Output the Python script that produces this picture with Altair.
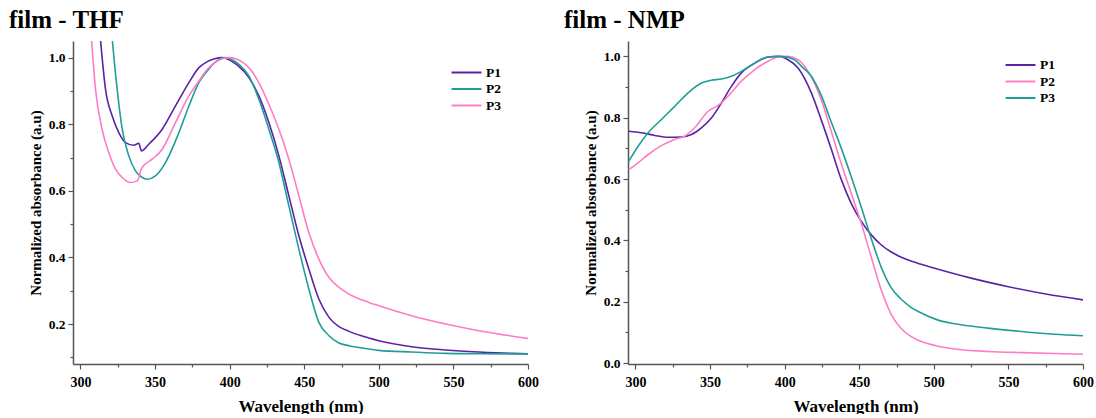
import altair as alt
import pandas as pd

# ---------------- data: film - THF ----------------
thf_p1_wl = [313.4, 316.8, 321.3, 325.7, 330.2, 335.8, 339.1, 340.9, 345.8, 354.8, 363.7, 372.7,
             379.4, 385, 390, 395, 400, 405, 412.9, 419.6, 426.3, 433, 439.7, 446.4, 453.1,
             459.8, 466.6, 473.3, 480, 493.4, 500, 522, 545, 567, 589, 600]
thf_p1_ab = [1.055, 0.905, 0.825, 0.775, 0.745, 0.737, 0.743, 0.72, 0.74, 0.785, 0.855, 0.925,
             0.97, 0.988, 0.997, 1.0, 0.993, 0.978, 0.94, 0.885, 0.805, 0.705, 0.585, 0.465, 0.365,
             0.275, 0.22, 0.192, 0.178, 0.158, 0.15, 0.132, 0.122, 0.116, 0.112, 0.111]

thf_p2_wl = [321.3, 324.6, 328, 332.4, 336.9, 341.4, 344.7, 350.3, 357, 366, 372.7, 379.4, 385,
             390, 397, 403, 407, 412.9, 419.6, 426.3, 433, 439.7, 446.4, 453.1, 459.8, 466.6,
             473.3, 480, 493.4, 500, 522, 545, 567, 600]
thf_p2_ab = [1.055, 0.905, 0.785, 0.705, 0.66, 0.64, 0.635, 0.645, 0.685, 0.775, 0.855, 0.925, 0.96,
             0.985, 1.0, 0.99, 0.977, 0.945, 0.875, 0.785, 0.685, 0.555, 0.425, 0.305, 0.205, 0.165,
             0.143, 0.135, 0.125, 0.121, 0.116, 0.112, 0.111, 0.11]

thf_p3_wl = [307.4, 310.1, 314.5, 319, 323.5, 328, 333.5, 338, 339.5, 340.3, 341.4, 348.1, 354.8,
             363.7, 372.7, 379.4, 385, 390, 395, 400, 405, 409, 412.9, 419.6, 426.3, 433, 439.7,
             446.4, 453.1, 459.8, 466.6, 473.3, 480, 493.4, 500, 522, 545, 567, 600]
thf_p3_ab = [1.055, 0.905, 0.785, 0.715, 0.665, 0.64, 0.625, 0.63, 0.645, 0.66, 0.67, 0.695, 0.725,
             0.805, 0.885, 0.93, 0.965, 0.985, 0.997, 1.0, 0.995, 0.985, 0.97, 0.925, 0.86, 0.785, 0.695,
             0.585, 0.475, 0.395, 0.34, 0.31, 0.29, 0.265, 0.255, 0.225, 0.2, 0.18, 0.157]

# ---------------- data: film - NMP ----------------
nmp_p1_wl = [295.5, 304, 313, 321.9, 330.8, 337.5, 344.2, 350.9, 357.6, 364.3, 371, 380, 388.9,
             395.6, 402.3, 409, 417.9, 424.6, 431.3, 438, 444.7, 451.4, 458.1, 464.8, 471.5,
             478.2, 491.6, 500, 525, 550, 575, 600]
nmp_p1_ab = [0.756, 0.751, 0.742, 0.736, 0.737, 0.745, 0.767, 0.799, 0.848, 0.902, 0.946, 0.978, 0.998,
             1.0, 0.989, 0.962, 0.881, 0.792, 0.697, 0.598, 0.52, 0.462, 0.418, 0.385, 0.362,
             0.345, 0.322, 0.31, 0.277, 0.249, 0.225, 0.206]

nmp_p2_wl = [295.5, 301.8, 308.5, 317.4, 326.3, 333, 339.7, 348.7, 355.4, 362.1, 371, 380, 388.9,
             395.6, 402.3, 409, 415.7, 424.6, 431.3, 438, 444.7, 451.4, 458.1, 464.8, 471.5, 478.2,
             484.9, 491.6, 502.8, 514, 536.3, 558.7, 581, 600]
nmp_p2_ab = [0.631, 0.653, 0.68, 0.709, 0.729, 0.74, 0.767, 0.821, 0.84, 0.87, 0.919, 0.957, 0.984,
             0.998, 1.0, 0.989, 0.951, 0.858, 0.755, 0.65, 0.553, 0.455, 0.345, 0.238, 0.158, 0.112,
             0.086, 0.07, 0.055, 0.046, 0.038, 0.034, 0.031, 0.029]

nmp_p3_wl = [295.5, 301.8, 308.5, 317.4, 326.3, 335.3, 344.2, 350.9, 357.6, 364.3, 371, 380, 388.9,
             397.8, 406.7, 411.2, 417.9, 424.6, 431.3, 438, 444.7, 451.4, 458.1, 464.8, 471.5, 478.2,
             484.9, 491.6, 502.8, 514, 536.3, 558.7, 581, 600]
nmp_p3_ab = [0.658, 0.707, 0.751, 0.794, 0.837, 0.881, 0.913, 0.922, 0.926, 0.935, 0.951, 0.978, 0.998,
             1.0, 0.989, 0.968, 0.935, 0.872, 0.785, 0.7, 0.607, 0.508, 0.405, 0.312, 0.245, 0.208,
             0.181, 0.163, 0.14, 0.128, 0.114, 0.103, 0.094, 0.089]

series_names = ["P1", "P2", "P3"]
x_ticks = [300, 325, 350, 375, 400, 425, 450, 475, 500, 525, 550, 575, 600]
y_ticks_thf = [0.1, 0.2, 0.3, 0.4, 0.5, 0.6, 0.7, 0.8, 0.9, 1.0]
y_ticks_nmp = [0.0, 0.1, 0.2, 0.3, 0.4, 0.5, 0.6, 0.7, 0.8, 0.9, 1.0]

PURPLE = "#5b22a6"
TEAL = "#1f9e98"
PINK = "#ff7cc4"

FONT = "Liberation Serif"


def make_df(groups):
    rows = []
    for name, wl, ab in groups:
        for w, a in zip(wl, ab):
            rows.append({"series": name, "wl": w, "ab": a})
    return pd.DataFrame(rows)


df_thf = make_df([("P1", thf_p1_wl, thf_p1_ab), ("P2", thf_p2_wl, thf_p2_ab), ("P3", thf_p3_wl, thf_p3_ab)])
df_nmp = make_df([("P1", nmp_p1_wl, nmp_p1_ab), ("P2", nmp_p2_wl, nmp_p2_ab), ("P3", nmp_p3_wl, nmp_p3_ab)])

x_axis = alt.Axis(
    values=x_ticks,
    format="d",
    labelExpr="datum.value % 50 === 0 ? datum.label : ''",
    tickSize={"condition": {"test": "datum.value % 50 !== 0", "value": 3}, "value": 5},
    labelPadding=6,
    titlePadding=9,
    labelOverlap=False,
    labelFlush=False,
    labelFontSize=14,
    titleFontSize=17,
)


def y_axis(vals):
    return alt.Axis(
        values=vals,
        format=".1f",
        labelExpr="round(datum.value * 10) % 2 === 0 ? datum.label : ''",
        tickSize={"condition": {"test": "round(datum.value * 10) % 2 !== 0", "value": 3}, "value": 5},
        labelPadding=3,
        titlePadding=5,
        labelOverlap=False,
        labelFlush=False,
        labelFontSize=13.5,
        titleFontSize=15,
    )


# legend symbol: a horizontal line wider than the unit square, so rows stay compact
LEGEND_LINE = "M-2.3,0L2.3,0"


def panel(df, title, ydom, yvals, colors, lx, ly):
    return (
        alt.Chart(df, title=alt.TitleParams(title, anchor="start", frame="group", dx=-64, offset=-12,
                                            fontSize=25, font=FONT, fontWeight="bold",
                                            color="black", baseline="alphabetic"))
        .mark_line(clip=True, strokeWidth=1.6, interpolate="monotone")
        .encode(
            x=alt.X("wl:Q", title="Wavelength (nm)", scale=alt.Scale(domain=[295, 600], nice=False, zero=False),
                    axis=x_axis),
            y=alt.Y("ab:Q", title="Normalized absorbance (a.u)",
                    scale=alt.Scale(domain=ydom, nice=False, zero=False), axis=y_axis(yvals)),
            color=alt.Color("series:N", scale=alt.Scale(domain=series_names, range=colors),
                            legend=alt.Legend(title=None, orient="none", legendX=lx, legendY=ly,
                                              symbolType=LEGEND_LINE, symbolSize=169, symbolStrokeWidth=2,
                                              symbolFillColor="transparent",
                                              labelFont=FONT, labelFontSize=13.5, labelFontWeight="bold",
                                              labelColor="black", rowPadding=2.5, padding=0,
                                              labelOffset=12)),
        )
        .properties(width=455, height=323)
    )


left = panel(df_thf, "film - THF", [0.08, 1.05], y_ticks_thf, [PURPLE, TEAL, PINK], 386, 24)
right = panel(df_nmp, "film - NMP", [-0.003, 1.05], y_ticks_nmp, [PURPLE, PINK, TEAL], 385, 16.5)

chart = (
    alt.hconcat(left, right, spacing=25)
    .resolve_scale(color="independent")
    .properties(padding={"left": 9, "top": 8, "right": 0, "bottom": 0}, background="white")
    .configure_view(stroke=None)
    .configure_axis(
        grid=False,
        labelFont=FONT, titleFont=FONT,
        labelFontWeight="bold", titleFontWeight="bold",
        labelColor="black", titleColor="black",
        domainColor="#555555", domainWidth=1.5,
        tickColor="#555555", tickWidth=1.2,
    )
)

chart.save("out.html", embed_options={"renderer": "svg", "actions": False})
